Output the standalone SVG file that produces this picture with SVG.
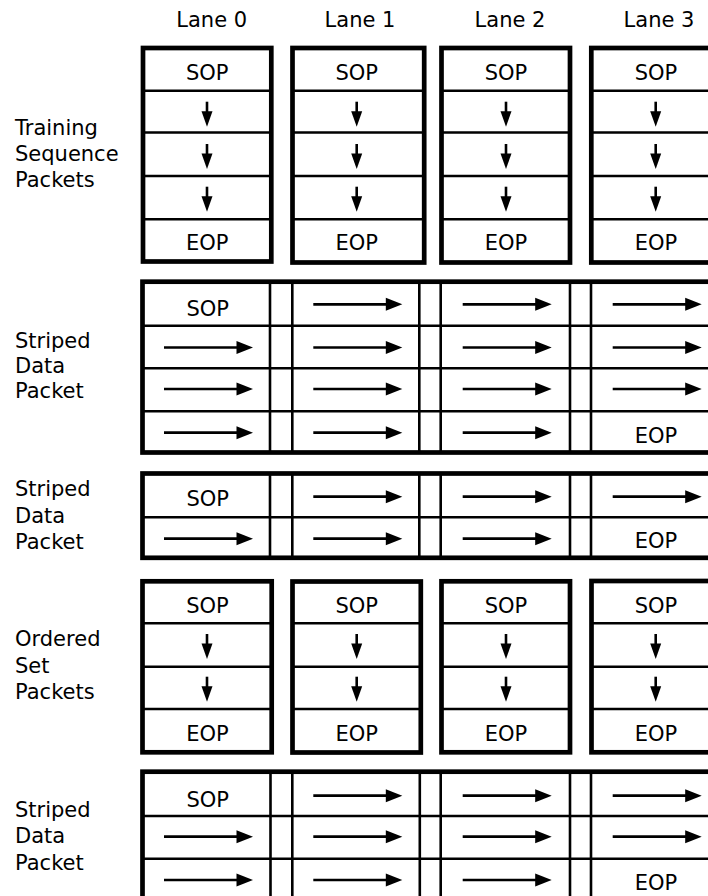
<svg xmlns="http://www.w3.org/2000/svg" width="708" height="896" viewBox="0 0 708 896">
<style>
  text { font-family: "DejaVu Sans", Verdana, sans-serif; font-size: 21px; fill: #000; }
  .c { text-anchor: middle; }
  .box { fill: #fff; stroke: #000; stroke-width: 4.7; }
  .dv { stroke: #000; stroke-width: 2.6; fill: none; }
</style>
<defs>
  <g id="ra">
    <line x1="0" y1="0" x2="74" y2="0" stroke="#000" stroke-width="2.7"/>
    <polygon points="72.5,-6.5 89,0 72.5,6.5" fill="#000"/>
  </g>
  <g id="da">
    <line x1="0" y1="0" x2="0" y2="11" stroke="#000" stroke-width="2.6"/>
    <polygon points="-5.5,9.5 0,25 5.5,9.5" fill="#000"/>
  </g>
</defs>
<rect width="708" height="896" fill="#fff"/>

<!-- Lane headers -->
<g id="lane-headers">
  <text class="c" x="211.7" y="26.5">Lane 0</text>
  <text class="c" x="360" y="26.5">Lane 1</text>
  <text class="c" x="510" y="26.5">Lane 2</text>
  <text class="c" x="659" y="26.5">Lane 3</text>
</g>

<!-- Row labels -->
<g id="label-ts">
  <text x="15" y="135">Training</text>
  <text x="15" y="161">Sequence</text>
  <text x="15" y="187">Packets</text>
</g>
<g id="label-sd1">
  <text x="15" y="348">Striped</text>
  <text x="15" y="373">Data</text>
  <text x="15" y="398">Packet</text>
</g>
<g id="label-sd2">
  <text x="15" y="496">Striped</text>
  <text x="15" y="522.5">Data</text>
  <text x="15" y="549">Packet</text>
</g>
<g id="label-os">
  <text x="15" y="646">Ordered</text>
  <text x="15" y="672.5">Set</text>
  <text x="15" y="699">Packets</text>
</g>
<g id="label-sd3">
  <text x="15" y="816.7">Striped</text>
  <text x="15" y="843">Data</text>
  <text x="15" y="870">Packet</text>
</g>

<!-- Training sequence packets -->
<g id="ts-lane0">
  <rect class="box" x="143" y="48" width="128.3" height="213.5"/>
  <path class="dv" d="M143,90.7H271.3M143,132.5H271.3M143,176H271.3M143,219.3H271.3"/>
  <text class="c" x="207.2" y="80">SOP</text>
  <text class="c" x="207.2" y="250">EOP</text>
</g>
<g id="ts-lane1">
  <rect class="box" x="292.5" y="48" width="131.7" height="214.5" stroke-width="5"/>
  <path class="dv" d="M292.5,90.7H424.2M292.5,132.5H424.2M292.5,176H424.2M292.5,219.3H424.2"/>
  <text class="c" x="356.7" y="80">SOP</text>
  <text class="c" x="356.7" y="250">EOP</text>
</g>
<g id="ts-lane2">
  <rect class="box" x="441.5" y="48" width="128.5" height="214.5"/>
  <path class="dv" d="M441.5,90.7H570M441.5,132.5H570M441.5,176H570M441.5,219.3H570"/>
  <text class="c" x="506" y="80">SOP</text>
  <text class="c" x="506" y="250">EOP</text>
</g>
<g id="ts-lane3">
  <rect class="box" x="591.3" y="48" width="140" height="214.5"/>
  <path class="dv" d="M591.3,90.7H731M591.3,132.5H731M591.3,176H731M591.3,219.3H731"/>
  <text class="c" x="656" y="80">SOP</text>
  <text class="c" x="656" y="250">EOP</text>
</g>

<!-- Striped data packet 1 -->
<g id="sd1">
  <rect class="box" x="142.5" y="281.7" width="600" height="170.8" stroke-width="4.8"/>
  <path class="dv" d="M142.5,325.7H740M142.5,368.3H740M142.5,411.3H740"/>
  <path class="dv" d="M270,281.7V452.5M292.3,281.7V452.5M419.3,281.7V452.5M440.7,281.7V452.5M570,281.7V452.5M591,281.7V452.5"/>
  <text class="c" x="207.7" y="316">SOP</text>
  <text class="c" x="656" y="443.3">EOP</text>
</g>

<!-- Striped data packet 2 -->
<g id="sd2">
  <rect class="box" x="142.5" y="473.5" width="600" height="84.3" stroke-width="4.8"/>
  <path class="dv" d="M142.5,517.3H740"/>
  <path class="dv" d="M270,473.5V557.8M292.3,473.5V557.8M419.3,473.5V557.8M440.7,473.5V557.8M570,473.5V557.8M591,473.5V557.8"/>
  <text class="c" x="207.7" y="506">SOP</text>
  <text class="c" x="656" y="548.3">EOP</text>
</g>

<!-- Ordered set packets -->
<g id="os-lane0">
  <rect class="box" x="142.5" y="581.3" width="129.2" height="171"/>
  <path class="dv" d="M142.5,623.3H271.7M142.5,666.7H271.7M142.5,709H271.7"/>
  <text class="c" x="207.5" y="613.3">SOP</text>
  <text class="c" x="207.5" y="741">EOP</text>
</g>
<g id="os-lane1">
  <rect class="box" x="292.5" y="581.5" width="128.3" height="171"/>
  <path class="dv" d="M292.5,623.3H420.8M292.5,666.7H420.8M292.5,709H420.8"/>
  <text class="c" x="356.7" y="613.3">SOP</text>
  <text class="c" x="356.7" y="741">EOP</text>
</g>
<g id="os-lane2">
  <rect class="box" x="441.5" y="581.3" width="128.5" height="171"/>
  <path class="dv" d="M441.5,623.3H570M441.5,666.7H570M441.5,709H570"/>
  <text class="c" x="506" y="613.3">SOP</text>
  <text class="c" x="506" y="741">EOP</text>
</g>
<g id="os-lane3">
  <rect class="box" x="591.5" y="581" width="140" height="171.3"/>
  <path class="dv" d="M591.5,623.3H731M591.5,666.7H731M591.5,709H731"/>
  <text class="c" x="656" y="613.3">SOP</text>
  <text class="c" x="656" y="741">EOP</text>
</g>

<!-- Striped data packet 3 -->
<g id="sd3">
  <rect class="box" x="142.5" y="771.7" width="600" height="160" stroke-width="4.8"/>
  <path class="dv" d="M142.5,816H740M142.5,858.7H740"/>
  <path class="dv" d="M270.5,771.7V930M292.3,771.7V930M419.8,771.7V930M440.7,771.7V930M570,771.7V930M591,771.7V930"/>
  <text class="c" x="207.7" y="806.7">SOP</text>
  <text class="c" x="656" y="890">EOP</text>
</g>

<!-- Arrows -->
<g id="connectors">
  <!-- training sequence down arrows -->
  <use href="#da" x="207" y="101.7"/><use href="#da" x="207" y="144"/><use href="#da" x="207" y="186.7"/>
  <use href="#da" x="356.7" y="101.7"/><use href="#da" x="356.7" y="144"/><use href="#da" x="356.7" y="186.7"/>
  <use href="#da" x="506" y="101.7"/><use href="#da" x="506" y="144"/><use href="#da" x="506" y="186.7"/>
  <use href="#da" x="655.7" y="101.7"/><use href="#da" x="655.7" y="144"/><use href="#da" x="655.7" y="186.7"/>

  <!-- striped 1 -->
  <use href="#ra" x="313.3" y="304.3"/><use href="#ra" x="462.7" y="304.3"/><use href="#ra" x="612.7" y="304.3"/>
  <use href="#ra" x="164" y="347.5"/><use href="#ra" x="313.3" y="347.5"/><use href="#ra" x="462.7" y="347.5"/><use href="#ra" x="612.7" y="347.5"/>
  <use href="#ra" x="164" y="389"/><use href="#ra" x="313.3" y="389"/><use href="#ra" x="462.7" y="389"/><use href="#ra" x="612.7" y="389"/>
  <use href="#ra" x="164" y="432.7"/><use href="#ra" x="313.3" y="432.7"/><use href="#ra" x="462.7" y="432.7"/>

  <!-- striped 2 -->
  <use href="#ra" x="313.3" y="496.7"/><use href="#ra" x="462.7" y="496.7"/><use href="#ra" x="612.7" y="496.7"/>
  <use href="#ra" x="164" y="538.7"/><use href="#ra" x="313.3" y="538.7"/><use href="#ra" x="462.7" y="538.7"/>

  <!-- ordered set down arrows -->
  <use href="#da" x="207" y="634"/><use href="#da" x="207" y="676.7"/>
  <use href="#da" x="356.7" y="634"/><use href="#da" x="356.7" y="676.7"/>
  <use href="#da" x="506" y="634"/><use href="#da" x="506" y="676.7"/>
  <use href="#da" x="655.7" y="634"/><use href="#da" x="655.7" y="676.7"/>

  <!-- striped 3 -->
  <use href="#ra" x="313.3" y="795.7"/><use href="#ra" x="462.7" y="795.7"/><use href="#ra" x="612.7" y="795.7"/>
  <use href="#ra" x="164" y="836.7"/><use href="#ra" x="313.3" y="836.7"/><use href="#ra" x="462.7" y="836.7"/><use href="#ra" x="612.7" y="836.7"/>
  <use href="#ra" x="164" y="880"/><use href="#ra" x="313.3" y="880"/><use href="#ra" x="462.7" y="880"/>
</g>
</svg>
